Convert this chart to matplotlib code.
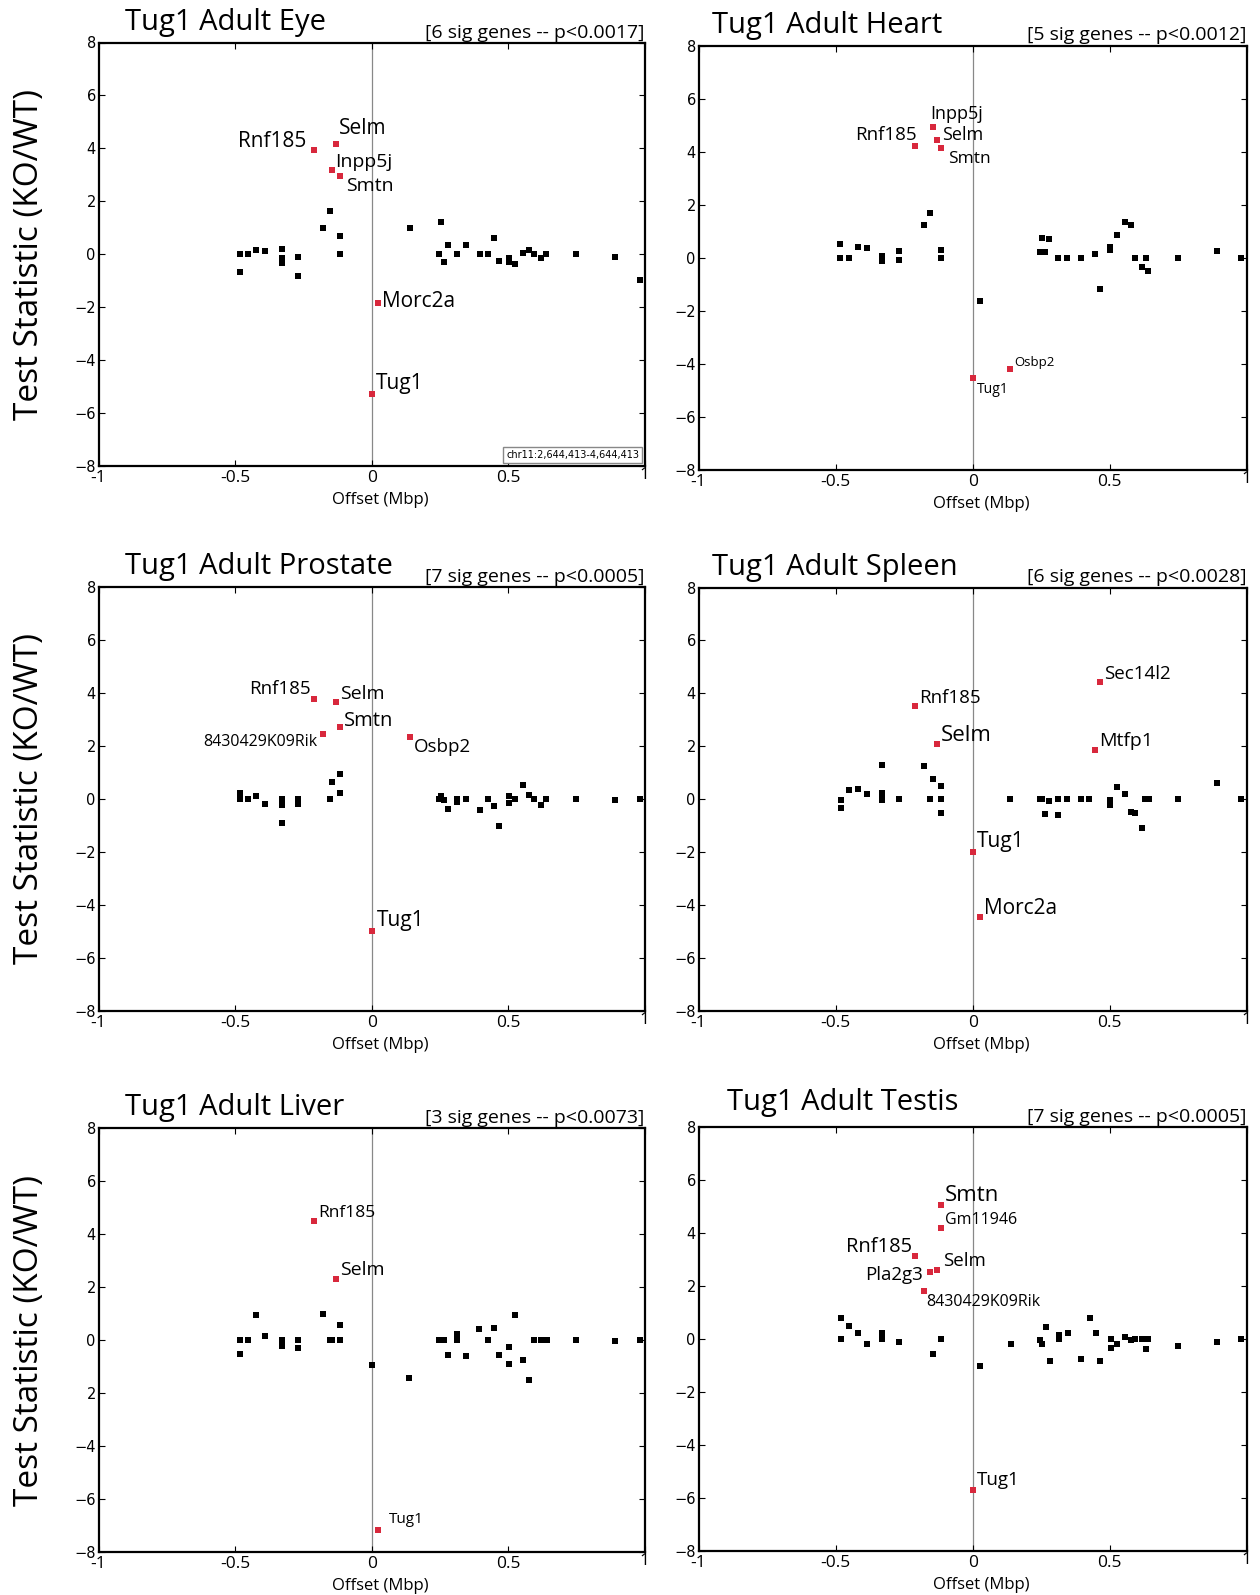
import matplotlib
matplotlib.use('Agg')
import matplotlib.pyplot as plt

# ---- data ----

eye_bg_x = [-0.483, -0.483, -0.453, -0.423, -0.389, -0.330, -0.330, -0.330, -0.269, -0.269,
            -0.180, -0.154, -0.116, -0.116, 0.140, 0.245, 0.253, 0.266, 0.279, 0.313,
            0.346, 0.396, 0.427, 0.449, 0.466, 0.504, 0.504, 0.525, 0.556, 0.577,
            0.594, 0.620, 0.638, 0.749, 0.893, 0.982]
eye_bg_y = [0, -0.66, 0, 0.15, 0.13, 0.20, -0.15, -0.32, -0.09, -0.81,
            1.01, 1.64, 0.68, 0, 1.01, 0, 1.20, -0.30, 0.35, 0,
            0.35, 0, 0, 0.61, -0.25, -0.15, -0.30, -0.38, 0.05, 0.15,
            0, -0.15, 0, 0, -0.10, -0.98]
eye_sig_genes = ['Rnf185', 'Selm', 'Inpp5j', 'Smtn', 'Morc2a', 'Tug1']
eye_sig_x = [-0.211, -0.131, -0.146, -0.117, 0.023, 0.0]
eye_sig_y = [3.94, 4.17, 3.17, 2.94, -1.83, -5.29]

heart_bg_x = [-0.483, -0.483, -0.451, -0.420, -0.387, -0.329, -0.329, -0.329, -0.268, -0.268,
              -0.179, -0.154, -0.115, -0.115, 0.025, 0.245, 0.253, 0.265, 0.279, 0.313,
              0.346, 0.394, 0.448, 0.464, 0.503, 0.503, 0.527, 0.556, 0.576, 0.593,
              0.619, 0.633, 0.641, 0.748, 0.891, 0.980]
heart_bg_y = [0.50, 0, 0, 0.41, 0.35, 0.06, -0.06, -0.14, 0.25, -0.09,
              1.24, 1.67, 0.28, 0, -1.62, 0.20, 0.73, 0.20, 0.70, 0,
              0, 0, 0.13, -1.17, 0.40, 0.28, 0.87, 1.36, 1.24, 0,
              -0.36, 0, -0.49, 0, 0.24, 0]
heart_sig_genes = ['Inpp5j', 'Selm', 'Rnf185', 'Smtn', 'Tug1', 'Osbp2']
heart_sig_x = [-0.146, -0.130, -0.211, -0.117, 0.0, 0.138]
heart_sig_y = [4.92, 4.43, 4.20, 4.13, -4.54, -4.18]

prostate_bg_x = [-0.483, -0.483, -0.453, -0.423, -0.389, -0.330, -0.330, -0.330, -0.330, -0.269,
                 -0.269, -0.154, -0.146, -0.116, -0.116, 0.245, 0.253, 0.266, 0.279, 0.313,
                 0.313, 0.346, 0.396, 0.427, 0.449, 0.466, 0.504, 0.504, 0.525, 0.556,
                 0.577, 0.594, 0.620, 0.638, 0.749, 0.893, 0.982]
prostate_bg_y = [0.23, 0, 0, 0.13, -0.19, 0, -0.10, -0.23, -0.90, 0,
                 -0.19, 0, 0.64, 0.95, 0.23, 0, 0.13, -0.05, -0.36, 0,
                 -0.10, 0, -0.41, 0, -0.28, -1.02, 0.13, -0.16, 0, 0.53,
                 0.15, 0, -0.23, 0, 0, -0.03, 0]
prostate_sig_genes = ['Rnf185', 'Selm', 'Smtn', '8430429K09Rik', 'Osbp2', 'Tug1']
prostate_sig_x = [-0.211, -0.131, -0.116, -0.180, 0.140, 0.0]
prostate_sig_y = [3.78, 3.66, 2.73, 2.47, 2.35, -4.97]

spleen_bg_x = [-0.481, -0.481, -0.450, -0.420, -0.386, -0.329, -0.329, -0.329, -0.329, -0.268,
               -0.179, -0.146, -0.154, -0.115, -0.115, -0.115, 0.138, 0.245, 0.253, 0.265,
               0.279, 0.313, 0.313, 0.346, 0.394, 0.426, 0.503, 0.503, 0.527, 0.556,
               0.576, 0.594, 0.619, 0.629, 0.643, 0.748, 0.893, 0.980]
spleen_bg_y = [-0.03, -0.34, 0.35, 0.39, 0.20, 1.30, 0.24, 0.11, -0.04, 0,
               1.27, 0.77, 0, 0.49, 0, -0.53, 0, 0, 0, -0.55,
               -0.08, 0, -0.58, 0, 0, 0, -0.03, -0.20, 0.47, 0.20,
               -0.50, -0.53, -1.07, 0, 0, 0, 0.60, 0]
spleen_sig_genes = ['Sec14l2', 'Rnf185', 'Selm', 'Mtfp1', 'Tug1', 'Morc2a']
spleen_sig_x = [0.466, -0.211, -0.129, 0.448, 0.0, 0.025]
spleen_sig_y = [4.42, 3.54, 2.10, 1.86, -2.00, -4.46]

liver_bg_x = [-0.483, -0.483, -0.452, -0.424, -0.389, -0.330, -0.330, -0.330, -0.269, -0.269,
              -0.180, -0.154, -0.145, -0.117, -0.117, 0.0, 0.138, 0.245, 0.256, 0.265,
              0.280, 0.313, 0.313, 0.346, 0.394, 0.427, 0.448, 0.466, 0.503, 0.503,
              0.526, 0.556, 0.576, 0.594, 0.620, 0.629, 0.642, 0.748, 0.893, 0.982]
liver_bg_y = [0, -0.52, 0, 0.93, 0.15, 0, -0.13, -0.24, 0, -0.31,
              0.97, 0, 0, 0.57, 0, -0.93, -1.45, 0, 0, 0,
              -0.55, 0.23, 0, -0.62, 0.42, 0, 0.45, -0.55, -0.26, -0.92,
              0.93, -0.74, -1.50, 0, 0, 0, 0, 0, -0.05, 0]
liver_sig_genes = ['Rnf185', 'Selm', 'Tug1']
liver_sig_x = [-0.211, -0.131, 0.025]
liver_sig_y = [4.49, 2.30, -7.16]

testis_bg_x = [-0.481, -0.481, -0.450, -0.420, -0.386, -0.329, -0.329, -0.268, -0.143, -0.115,
               0.025, 0.139, 0.245, 0.253, 0.268, 0.281, 0.314, 0.314, 0.347, 0.395,
               0.427, 0.450, 0.466, 0.504, 0.504, 0.527, 0.556, 0.576, 0.593, 0.619,
               0.634, 0.641, 0.749, 0.893, 0.980]
testis_bg_y = [0.80, 0, 0.49, 0.24, -0.19, 0.24, 0, -0.10, -0.58, 0,
               -1.02, -0.18, -0.03, -0.18, 0.44, -0.83, 0.16, 0, 0.24, -0.77,
               0.78, 0.23, -0.84, 0, -0.33, -0.18, 0.08, -0.05, 0, 0,
               -0.39, 0, -0.25, -0.10, 0]
testis_sig_genes = ['Smtn', 'Gm11946', 'Rnf185', 'Selm', 'Pla2g3', '8430429K09Rik', 'Tug1']
testis_sig_x = [-0.115, -0.115, -0.211, -0.129, -0.154, -0.179, 0.0]
testis_sig_y = [5.04, 4.18, 3.13, 2.61, 2.51, 1.83, -5.69]

x_ticks = [-1, -0.5, 0, 0.5, 1]
x_tick_labels = ['-1', '-0.5', '0', '0.5', '1']
y_ticks = [-8, -6, -4, -2, 0, 2, 4, 6, 8]
y_tick_labels = ['\u22128', '\u22126', '\u22124', '\u22122', '0', '2', '4', '6', '8']
# the liver panel shows "2" where -2 should be
liver_y_tick_labels = ['\u22128', '\u22126', '\u22124', '2', '0', '2', '4', '6', '8']

# ---- label placement: (fontsize, dx px, dy px, ha) per gene ----
eye_labels = {'Rnf185': (15, -8, 3, 'right'), 'Selm': (15, 3, 10, 'left'),
              'Inpp5j': (14, 3, 3, 'left'), 'Smtn': (14, 6, -15, 'left'),
              'Morc2a': (15, 4, -4, 'left'), 'Tug1': (15, 4, 5, 'left')}
heart_labels = {'Inpp5j': (13, -2, 8, 'left'), 'Selm': (13, 5, 0, 'left'),
                'Rnf185': (13.5, 2, 6, 'right'), 'Smtn': (12.5, 7, -15, 'left'),
                'Tug1': (10, 4, -15, 'left'), 'Osbp2': (9.5, 4, 3, 'left')}
prostate_labels = {'Rnf185': (13.5, -3, 5, 'right'), 'Selm': (14, 4, 3, 'left'),
                   'Smtn': (14.5, 4, 1, 'left'), '8430429K09Rik': (11.5, -5, -12, 'right'),
                   'Osbp2': (13.5, 4, -15, 'left'), 'Tug1': (15, 5, 5, 'left')}
spleen_labels = {'Sec14l2': (13.5, 4, 3, 'left'), 'Rnf185': (13.5, 4, 3, 'left'),
                 'Selm': (16, 4, 3, 'left'), 'Mtfp1': (14, 4, 4, 'left'),
                 'Tug1': (15, 4, 5, 'left'), 'Morc2a': (15, 4, 3, 'left')}
liver_labels = {'Rnf185': (12.5, 4, 4, 'left'), 'Selm': (14, 4, 4, 'left'),
                'Tug1': (11, 10, 7, 'left')}
testis_labels = {'Smtn': (16, 4, 4, 'left'), 'Gm11946': (11.5, 4, 4, 'left'),
                 'Rnf185': (14.5, -3, 4, 'right'), 'Selm': (13.5, 6, 4, 'left'),
                 'Pla2g3': (13.5, -8, -8, 'right'), '8430429K09Rik': (11.5, 3, -15, 'left'),
                 'Tug1': (13.5, 4, 5, 'left')}

W, H = 1260, 1595
FONT = 'Open Sans'
RED = '#d8283c'


def draw_panel(fig, box, title, sig_text, title_dx, bg_x, bg_y, genes, gx, gy, labels,
               ylabels=y_tick_labels, title_dy=13):
    left, right, top, bottom = box
    ax = fig.add_axes([left / W, 1 - bottom / H, (right - left) / W, (bottom - top) / H])
    ax.set_xlim(-1, 1)
    ax.set_ylim(-8, 8)

    ax.axvline(0, color='#888888', lw=0.9, zorder=1)
    ax.plot(bg_x, bg_y, 's', color='black', ms=3.8, mew=0, zorder=2)
    ax.plot(gx, gy, 's', color=RED, ms=3.8, mew=0, zorder=3)

    for name, x, y in zip(genes, gx, gy):
        fs, dx, dy, ha = labels[name]
        ax.annotate(name, xy=(x, y), xytext=(dx, dy), textcoords='offset pixels',
                    ha=ha, va='baseline', fontsize=fs, family=FONT, zorder=4)

    for s in ax.spines.values():
        s.set_linewidth(1.6)
    ax.tick_params(direction='in', length=4, width=0.8, top=True, right=True, pad=3)
    ax.set_xticks(x_ticks)
    ax.set_xticklabels(x_tick_labels[:-1] + [''], family=FONT, fontsize=12.5)
    ax.set_yticks(y_ticks)
    ax.set_yticklabels(ylabels, family='DejaVu Sans', fontsize=10.5)
    ax.tick_params(axis='y', pad=2)
    # the "1" on the right end sits a little higher than the others
    ax.annotate(x_tick_labels[-1], xy=(1, 0), xycoords=('data', 'axes fraction'),
                xytext=(0, -1), textcoords='offset pixels', ha='center', va='top',
                family=FONT, fontsize=12.5)

    w = right - left
    ax.text(0.5 + 9 / w, -34 / (bottom - top), 'Offset (Mbp)', transform=ax.transAxes,
            ha='center', va='center', fontsize=12, family=FONT)

    ax.text(title_dx / w, 1 + title_dy / (bottom - top), title, transform=ax.transAxes,
            ha='left', va='baseline', fontsize=21, family=FONT)
    ax.text(1.0, 1 + 5 / (bottom - top), sig_text, transform=ax.transAxes,
            ha='right', va='baseline', fontsize=14, family=FONT)
    return ax


fig = plt.figure(figsize=(W / 100, H / 100), dpi=100)

ax_eye = draw_panel(fig, (98.6, 644.7, 42.5, 466), 'Tug1 Adult Eye',
                    '[6 sig genes -- p<0.0017]', 26, eye_bg_x, eye_bg_y,
                    eye_sig_genes, eye_sig_x, eye_sig_y, eye_labels)
ax_eye.text(0.99, 0.015, 'chr11:2,644,413-4,644,413', transform=ax_eye.transAxes,
            ha='right', va='bottom', fontsize=7, family='DejaVu Sans',
            bbox=dict(boxstyle='square,pad=0.3', facecolor='white', edgecolor='#888888', lw=1))

draw_panel(fig, (698.6, 1246.7, 45.5, 470), 'Tug1 Adult Heart',
           '[5 sig genes -- p<0.0012]', 13, heart_bg_x, heart_bg_y,
           heart_sig_genes, heart_sig_x, heart_sig_y, heart_labels)
draw_panel(fig, (98.6, 644.7, 587, 1011), 'Tug1 Adult Prostate',
           '[7 sig genes -- p<0.0005]', 26, prostate_bg_x, prostate_bg_y,
           prostate_sig_genes, prostate_sig_x, prostate_sig_y, prostate_labels)
draw_panel(fig, (698.6, 1246.7, 587.5, 1011), 'Tug1 Adult Spleen',
           '[6 sig genes -- p<0.0028]', 13, spleen_bg_x, spleen_bg_y,
           spleen_sig_genes, spleen_sig_x, spleen_sig_y, spleen_labels)
draw_panel(fig, (98.6, 644.7, 1128, 1552), 'Tug1 Adult Liver',
           '[3 sig genes -- p<0.0073]', 26, liver_bg_x, liver_bg_y,
           liver_sig_genes, liver_sig_x, liver_sig_y, liver_labels,
           ylabels=liver_y_tick_labels)
draw_panel(fig, (698.6, 1246.7, 1127, 1551), 'Tug1 Adult Testis',
           '[7 sig genes -- p<0.0005]', 28, testis_bg_x, testis_bg_y,
           testis_sig_genes, testis_sig_x, testis_sig_y, testis_labels, title_dy=17)

# one y label per row, at the far left
for top, bottom in [(42.5, 466), (587, 1011), (1128, 1552)]:
    fig.text(30 / W, 1 - (top + bottom) / 2 / H, 'Test Statistic (KO/WT)', rotation=90,
             ha='center', va='center', fontsize=24, family=FONT)

fig.savefig('out.png', dpi=100)
